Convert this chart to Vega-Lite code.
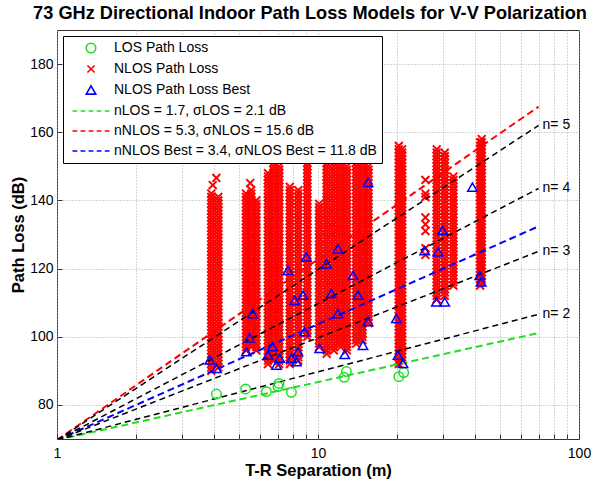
{
"$schema": "https://vega.github.io/schema/vega-lite/v6.json",
"width": 522, "height": 409,
"autosize": {"type": "none"},
"padding": {"left": 57, "top": 30, "right": 18, "bottom": 44},
"background": "white",
"title": {"text": "73 GHz Directional Indoor Path Loss Models for V-V Polarization", "font": "Liberation Sans", "fontSize": 18.2, "fontWeight": "bold", "color": "black", "anchor": "middle", "offset": 7, "dx": -8},
"config": {
  "view": {"stroke": "#333", "strokeWidth": 1},
  "axis": {"labelFont": "Liberation Sans", "labelFontSize": 14, "labelColor": "black", "titleFont": "Liberation Sans", "titleFontSize": 16.5, "titleFontWeight": "bold", "titleColor": "black", "domain": false, "gridColor": "#aaaaaa", "gridDash": [1, 2], "gridOpacity": 1, "gridWidth": 1, "tickColor": "#333", "tickSize": -5},
  "axisX": {"labelPadding": 12, "titlePadding": 2, "labelFlush": false},
  "axisY": {"labelPadding": 9, "titlePadding": 3},
  "legend": {"orient": "top-left", "offset": 6, "labelFont": "Liberation Sans", "labelFontSize": 14, "labelColor": "black", "labelLimit": 400, "strokeColor": "#000", "fillColor": "white", "padding": 5, "rowPadding": 6, "symbolOffset": 16, "labelOffset": 16, "symbolStrokeWidth": 1.6, "symbolSize": 90, "cornerRadius": 0}
},
"datasets": {
"nlos": [
{"d":3.9,"p":90},{"d":3.9,"p":91},{"d":3.9,"p":92},{"d":3.9,"p":93},{"d":3.9,"p":94},{"d":3.9,"p":95},{"d":3.9,"p":96},{"d":3.9,"p":97},{"d":3.9,"p":98},{"d":3.9,"p":99},{"d":3.9,"p":100},{"d":3.9,"p":101},{"d":3.9,"p":102},{"d":3.9,"p":103},{"d":3.9,"p":104},{"d":3.9,"p":105},{"d":3.9,"p":106},{"d":3.9,"p":107},{"d":3.9,"p":108},{"d":3.9,"p":109},{"d":3.9,"p":110},{"d":3.9,"p":111},{"d":3.9,"p":112},{"d":3.9,"p":113},{"d":3.9,"p":114},{"d":3.9,"p":115},{"d":3.9,"p":116},{"d":3.9,"p":117},{"d":3.9,"p":118},{"d":3.9,"p":119},{"d":3.9,"p":120},{"d":3.9,"p":121},{"d":3.9,"p":122},{"d":3.9,"p":123},{"d":3.9,"p":124},{"d":3.9,"p":125},{"d":3.9,"p":126},{"d":3.9,"p":127},{"d":3.9,"p":128},{"d":3.9,"p":129},{"d":3.9,"p":130},{"d":3.9,"p":131},{"d":3.9,"p":132},{"d":3.9,"p":133},{"d":3.9,"p":134},{"d":3.9,"p":135},{"d":3.9,"p":136},{"d":3.9,"p":137},{"d":3.9,"p":138},{"d":3.9,"p":139},{"d":3.9,"p":140},{"d":3.9,"p":141},{"d":3.9,"p":142},
{"d":4.15,"p":91},{"d":4.15,"p":92},{"d":4.15,"p":93},{"d":4.15,"p":94},{"d":4.15,"p":95},{"d":4.15,"p":96},{"d":4.15,"p":97},{"d":4.15,"p":98},{"d":4.15,"p":99},{"d":4.15,"p":100},{"d":4.15,"p":101},{"d":4.15,"p":102},{"d":4.15,"p":103},{"d":4.15,"p":104},{"d":4.15,"p":105},{"d":4.15,"p":106},{"d":4.15,"p":107},{"d":4.15,"p":108},{"d":4.15,"p":109},{"d":4.15,"p":110},{"d":4.15,"p":111},{"d":4.15,"p":112},{"d":4.15,"p":113},{"d":4.15,"p":114},{"d":4.15,"p":115},{"d":4.15,"p":116},{"d":4.15,"p":117},{"d":4.15,"p":118},{"d":4.15,"p":119},{"d":4.15,"p":120},{"d":4.15,"p":121},{"d":4.15,"p":122},{"d":4.15,"p":123},{"d":4.15,"p":124},{"d":4.15,"p":125},{"d":4.15,"p":126},{"d":4.15,"p":127},{"d":4.15,"p":128},{"d":4.15,"p":129},{"d":4.15,"p":130},{"d":4.15,"p":131},{"d":4.15,"p":132},{"d":4.15,"p":133},{"d":4.15,"p":134},{"d":4.15,"p":135},{"d":4.15,"p":136},{"d":4.15,"p":137},{"d":4.15,"p":138},{"d":4.15,"p":139},{"d":4.15,"p":140},{"d":4.15,"p":141},
{"d":3.95,"p":144.5},{"d":4.08,"p":146.6},
{"d":5.3,"p":96},{"d":5.3,"p":97},{"d":5.3,"p":98},{"d":5.3,"p":99},{"d":5.3,"p":100},{"d":5.3,"p":101},{"d":5.3,"p":102},{"d":5.3,"p":103},{"d":5.3,"p":104},{"d":5.3,"p":105},{"d":5.3,"p":106},{"d":5.3,"p":107},{"d":5.3,"p":108},{"d":5.3,"p":109},{"d":5.3,"p":110},{"d":5.3,"p":111},{"d":5.3,"p":112},{"d":5.3,"p":113},{"d":5.3,"p":114},{"d":5.3,"p":115},{"d":5.3,"p":116},{"d":5.3,"p":117},{"d":5.3,"p":118},{"d":5.3,"p":119},{"d":5.3,"p":120},{"d":5.3,"p":121},{"d":5.3,"p":122},{"d":5.3,"p":123},{"d":5.3,"p":124},{"d":5.3,"p":125},{"d":5.3,"p":126},{"d":5.3,"p":127},{"d":5.3,"p":128},{"d":5.3,"p":129},{"d":5.3,"p":130},{"d":5.3,"p":131},{"d":5.3,"p":132},{"d":5.3,"p":133},{"d":5.3,"p":134},{"d":5.3,"p":135},{"d":5.3,"p":136},{"d":5.3,"p":137},{"d":5.3,"p":138},{"d":5.3,"p":139},{"d":5.3,"p":140},{"d":5.3,"p":141},{"d":5.3,"p":142},
{"d":5.55,"p":97},{"d":5.55,"p":98},{"d":5.55,"p":99},{"d":5.55,"p":100},{"d":5.55,"p":101},{"d":5.55,"p":102},{"d":5.55,"p":103},{"d":5.55,"p":104},{"d":5.55,"p":105},{"d":5.55,"p":106},{"d":5.55,"p":107},{"d":5.55,"p":108},{"d":5.55,"p":109},{"d":5.55,"p":110},{"d":5.55,"p":111},{"d":5.55,"p":112},{"d":5.55,"p":113},{"d":5.55,"p":114},{"d":5.55,"p":115},{"d":5.55,"p":116},{"d":5.55,"p":117},{"d":5.55,"p":118},{"d":5.55,"p":119},{"d":5.55,"p":120},{"d":5.55,"p":121},{"d":5.55,"p":122},{"d":5.55,"p":123},{"d":5.55,"p":124},{"d":5.55,"p":125},{"d":5.55,"p":126},{"d":5.55,"p":127},{"d":5.55,"p":128},{"d":5.55,"p":129},{"d":5.55,"p":130},{"d":5.55,"p":131},{"d":5.55,"p":132},{"d":5.55,"p":133},{"d":5.55,"p":134},{"d":5.55,"p":135},{"d":5.55,"p":136},{"d":5.55,"p":137},{"d":5.55,"p":138},{"d":5.55,"p":139},{"d":5.55,"p":140},{"d":5.55,"p":141},{"d":5.55,"p":142},{"d":5.55,"p":143},
{"d":5.8,"p":96},{"d":5.8,"p":97},{"d":5.8,"p":98},{"d":5.8,"p":99},{"d":5.8,"p":100},{"d":5.8,"p":101},{"d":5.8,"p":102},{"d":5.8,"p":103},{"d":5.8,"p":104},{"d":5.8,"p":105},{"d":5.8,"p":106},{"d":5.8,"p":107},{"d":5.8,"p":108},{"d":5.8,"p":109},{"d":5.8,"p":110},{"d":5.8,"p":111},{"d":5.8,"p":112},{"d":5.8,"p":113},{"d":5.8,"p":114},{"d":5.8,"p":115},{"d":5.8,"p":116},{"d":5.8,"p":117},{"d":5.8,"p":118},{"d":5.8,"p":119},{"d":5.8,"p":120},{"d":5.8,"p":121},{"d":5.8,"p":122},{"d":5.8,"p":123},{"d":5.8,"p":124},{"d":5.8,"p":125},{"d":5.8,"p":126},{"d":5.8,"p":127},{"d":5.8,"p":128},{"d":5.8,"p":129},{"d":5.8,"p":130},{"d":5.8,"p":131},{"d":5.8,"p":132},{"d":5.8,"p":133},{"d":5.8,"p":134},{"d":5.8,"p":135},{"d":5.8,"p":136},{"d":5.8,"p":137},{"d":5.8,"p":138},{"d":5.8,"p":139},{"d":5.8,"p":140},
{"d":5.5,"p":145.1},
{"d":6.43,"p":92},{"d":6.43,"p":93},{"d":6.43,"p":94},{"d":6.43,"p":95},{"d":6.43,"p":96},{"d":6.43,"p":97},{"d":6.43,"p":98},{"d":6.43,"p":99},{"d":6.43,"p":100},{"d":6.43,"p":101},{"d":6.43,"p":102},{"d":6.43,"p":103},{"d":6.43,"p":104},{"d":6.43,"p":105},{"d":6.43,"p":106},{"d":6.43,"p":107},{"d":6.43,"p":108},{"d":6.43,"p":109},{"d":6.43,"p":110},{"d":6.43,"p":111},{"d":6.43,"p":112},{"d":6.43,"p":113},{"d":6.43,"p":114},{"d":6.43,"p":115},{"d":6.43,"p":116},{"d":6.43,"p":117},{"d":6.43,"p":118},{"d":6.43,"p":119},{"d":6.43,"p":120},{"d":6.43,"p":121},{"d":6.43,"p":122},{"d":6.43,"p":123},{"d":6.43,"p":124},{"d":6.43,"p":125},{"d":6.43,"p":126},{"d":6.43,"p":127},{"d":6.43,"p":128},{"d":6.43,"p":129},{"d":6.43,"p":130},{"d":6.43,"p":131},{"d":6.43,"p":132},{"d":6.43,"p":133},{"d":6.43,"p":134},{"d":6.43,"p":135},{"d":6.43,"p":136},{"d":6.43,"p":137},{"d":6.43,"p":138},{"d":6.43,"p":139},{"d":6.43,"p":140},{"d":6.43,"p":141},{"d":6.43,"p":142},{"d":6.43,"p":143},{"d":6.43,"p":144},{"d":6.43,"p":145},{"d":6.43,"p":146},{"d":6.43,"p":147},{"d":6.43,"p":148},
{"d":6.75,"p":93},{"d":6.75,"p":94},{"d":6.75,"p":95},{"d":6.75,"p":96},{"d":6.75,"p":97},{"d":6.75,"p":98},{"d":6.75,"p":99},{"d":6.75,"p":100},{"d":6.75,"p":101},{"d":6.75,"p":102},{"d":6.75,"p":103},{"d":6.75,"p":104},{"d":6.75,"p":105},{"d":6.75,"p":106},{"d":6.75,"p":107},{"d":6.75,"p":108},{"d":6.75,"p":109},{"d":6.75,"p":110},{"d":6.75,"p":111},{"d":6.75,"p":112},{"d":6.75,"p":113},{"d":6.75,"p":114},{"d":6.75,"p":115},{"d":6.75,"p":116},{"d":6.75,"p":117},{"d":6.75,"p":118},{"d":6.75,"p":119},{"d":6.75,"p":120},{"d":6.75,"p":121},{"d":6.75,"p":122},{"d":6.75,"p":123},{"d":6.75,"p":124},{"d":6.75,"p":125},{"d":6.75,"p":126},{"d":6.75,"p":127},{"d":6.75,"p":128},{"d":6.75,"p":129},{"d":6.75,"p":130},{"d":6.75,"p":131},{"d":6.75,"p":132},{"d":6.75,"p":133},{"d":6.75,"p":134},{"d":6.75,"p":135},{"d":6.75,"p":136},{"d":6.75,"p":137},{"d":6.75,"p":138},{"d":6.75,"p":139},{"d":6.75,"p":140},{"d":6.75,"p":141},{"d":6.75,"p":142},{"d":6.75,"p":143},{"d":6.75,"p":144},{"d":6.75,"p":145},{"d":6.75,"p":146},{"d":6.75,"p":147},{"d":6.75,"p":148},{"d":6.75,"p":149},{"d":6.75,"p":150},{"d":6.75,"p":151},
{"d":7.1,"p":92},{"d":7.1,"p":93},{"d":7.1,"p":94},{"d":7.1,"p":95},{"d":7.1,"p":96},{"d":7.1,"p":97},{"d":7.1,"p":98},{"d":7.1,"p":99},{"d":7.1,"p":100},{"d":7.1,"p":101},{"d":7.1,"p":102},{"d":7.1,"p":103},{"d":7.1,"p":104},{"d":7.1,"p":105},{"d":7.1,"p":106},{"d":7.1,"p":107},{"d":7.1,"p":108},{"d":7.1,"p":109},{"d":7.1,"p":110},{"d":7.1,"p":111},{"d":7.1,"p":112},{"d":7.1,"p":113},{"d":7.1,"p":114},{"d":7.1,"p":115},{"d":7.1,"p":116},{"d":7.1,"p":117},{"d":7.1,"p":118},{"d":7.1,"p":119},{"d":7.1,"p":120},{"d":7.1,"p":121},{"d":7.1,"p":122},{"d":7.1,"p":123},{"d":7.1,"p":124},{"d":7.1,"p":125},{"d":7.1,"p":126},{"d":7.1,"p":127},{"d":7.1,"p":128},{"d":7.1,"p":129},{"d":7.1,"p":130},{"d":7.1,"p":131},{"d":7.1,"p":132},{"d":7.1,"p":133},{"d":7.1,"p":134},{"d":7.1,"p":135},{"d":7.1,"p":136},{"d":7.1,"p":137},{"d":7.1,"p":138},{"d":7.1,"p":139},{"d":7.1,"p":140},{"d":7.1,"p":141},{"d":7.1,"p":142},{"d":7.1,"p":143},{"d":7.1,"p":144},{"d":7.1,"p":145},{"d":7.1,"p":146},{"d":7.1,"p":147},{"d":7.1,"p":148},{"d":7.1,"p":149},{"d":7.1,"p":150},
{"d":7.8,"p":92},{"d":7.8,"p":93},{"d":7.8,"p":94},{"d":7.8,"p":95},{"d":7.8,"p":96},{"d":7.8,"p":97},{"d":7.8,"p":98},{"d":7.8,"p":99},{"d":7.8,"p":100},{"d":7.8,"p":101},{"d":7.8,"p":102},{"d":7.8,"p":103},{"d":7.8,"p":104},{"d":7.8,"p":105},{"d":7.8,"p":106},{"d":7.8,"p":107},{"d":7.8,"p":108},{"d":7.8,"p":109},{"d":7.8,"p":110},{"d":7.8,"p":111},{"d":7.8,"p":112},{"d":7.8,"p":113},{"d":7.8,"p":114},{"d":7.8,"p":115},{"d":7.8,"p":116},{"d":7.8,"p":117},{"d":7.8,"p":118},{"d":7.8,"p":119},{"d":7.8,"p":120},{"d":7.8,"p":121},{"d":7.8,"p":122},{"d":7.8,"p":123},{"d":7.8,"p":124},{"d":7.8,"p":125},{"d":7.8,"p":126},{"d":7.8,"p":127},{"d":7.8,"p":128},{"d":7.8,"p":129},{"d":7.8,"p":130},{"d":7.8,"p":131},{"d":7.8,"p":132},{"d":7.8,"p":133},{"d":7.8,"p":134},{"d":7.8,"p":135},{"d":7.8,"p":136},{"d":7.8,"p":137},{"d":7.8,"p":138},{"d":7.8,"p":139},{"d":7.8,"p":140},{"d":7.8,"p":141},{"d":7.8,"p":142},{"d":7.8,"p":143},{"d":7.8,"p":144},
{"d":8.4,"p":93},{"d":8.4,"p":94},{"d":8.4,"p":95},{"d":8.4,"p":96},{"d":8.4,"p":97},{"d":8.4,"p":98},{"d":8.4,"p":99},{"d":8.4,"p":100},{"d":8.4,"p":101},{"d":8.4,"p":102},{"d":8.4,"p":103},{"d":8.4,"p":104},{"d":8.4,"p":105},{"d":8.4,"p":106},{"d":8.4,"p":107},{"d":8.4,"p":108},{"d":8.4,"p":109},{"d":8.4,"p":110},{"d":8.4,"p":111},{"d":8.4,"p":112},{"d":8.4,"p":113},{"d":8.4,"p":114},{"d":8.4,"p":115},{"d":8.4,"p":116},{"d":8.4,"p":117},{"d":8.4,"p":118},{"d":8.4,"p":119},{"d":8.4,"p":120},{"d":8.4,"p":121},{"d":8.4,"p":122},{"d":8.4,"p":123},{"d":8.4,"p":124},{"d":8.4,"p":125},{"d":8.4,"p":126},{"d":8.4,"p":127},{"d":8.4,"p":128},{"d":8.4,"p":129},{"d":8.4,"p":130},{"d":8.4,"p":131},{"d":8.4,"p":132},{"d":8.4,"p":133},{"d":8.4,"p":134},{"d":8.4,"p":135},{"d":8.4,"p":136},{"d":8.4,"p":137},{"d":8.4,"p":138},{"d":8.4,"p":139},{"d":8.4,"p":140},{"d":8.4,"p":141},{"d":8.4,"p":142},{"d":8.4,"p":143},
{"d":9.1,"p":100},{"d":9.1,"p":101},{"d":9.1,"p":102},{"d":9.1,"p":103},{"d":9.1,"p":104},{"d":9.1,"p":105},{"d":9.1,"p":106},{"d":9.1,"p":107},{"d":9.1,"p":108},{"d":9.1,"p":109},{"d":9.1,"p":110},{"d":9.1,"p":111},{"d":9.1,"p":112},{"d":9.1,"p":113},{"d":9.1,"p":114},{"d":9.1,"p":115},{"d":9.1,"p":116},{"d":9.1,"p":117},{"d":9.1,"p":118},{"d":9.1,"p":119},{"d":9.1,"p":120},{"d":9.1,"p":121},{"d":9.1,"p":122},{"d":9.1,"p":123},{"d":9.1,"p":124},{"d":9.1,"p":125},{"d":9.1,"p":126},{"d":9.1,"p":127},{"d":9.1,"p":128},{"d":9.1,"p":129},{"d":9.1,"p":130},{"d":9.1,"p":131},{"d":9.1,"p":132},{"d":9.1,"p":133},{"d":9.1,"p":134},{"d":9.1,"p":135},{"d":9.1,"p":136},{"d":9.1,"p":137},{"d":9.1,"p":138},{"d":9.1,"p":139},{"d":9.1,"p":140},{"d":9.1,"p":141},{"d":9.1,"p":142},{"d":9.1,"p":143},{"d":9.1,"p":144},{"d":9.1,"p":145},{"d":9.1,"p":146},{"d":9.1,"p":147},{"d":9.1,"p":148},{"d":9.1,"p":149},{"d":9.1,"p":150},{"d":9.1,"p":151},{"d":9.1,"p":152},{"d":9.1,"p":153},{"d":9.1,"p":154},{"d":9.1,"p":155},{"d":9.1,"p":156},{"d":9.1,"p":157},{"d":9.1,"p":158},{"d":9.1,"p":159},{"d":9.1,"p":160},
{"d":10.1,"p":97},{"d":10.1,"p":98},{"d":10.1,"p":99},{"d":10.1,"p":100},{"d":10.1,"p":101},{"d":10.1,"p":102},{"d":10.1,"p":103},{"d":10.1,"p":104},{"d":10.1,"p":105},{"d":10.1,"p":106},{"d":10.1,"p":107},{"d":10.1,"p":108},{"d":10.1,"p":109},{"d":10.1,"p":110},{"d":10.1,"p":111},{"d":10.1,"p":112},{"d":10.1,"p":113},{"d":10.1,"p":114},{"d":10.1,"p":115},{"d":10.1,"p":116},{"d":10.1,"p":117},{"d":10.1,"p":118},{"d":10.1,"p":119},{"d":10.1,"p":120},{"d":10.1,"p":121},{"d":10.1,"p":122},{"d":10.1,"p":123},{"d":10.1,"p":124},{"d":10.1,"p":125},{"d":10.1,"p":126},{"d":10.1,"p":127},{"d":10.1,"p":128},{"d":10.1,"p":129},{"d":10.1,"p":130},{"d":10.1,"p":131},{"d":10.1,"p":132},{"d":10.1,"p":133},{"d":10.1,"p":134},{"d":10.1,"p":135},{"d":10.1,"p":136},{"d":10.1,"p":137},{"d":10.1,"p":138},{"d":10.1,"p":139},
{"d":10.8,"p":95},{"d":10.8,"p":96},{"d":10.8,"p":97},{"d":10.8,"p":98},{"d":10.8,"p":99},{"d":10.8,"p":100},{"d":10.8,"p":101},{"d":10.8,"p":102},{"d":10.8,"p":103},{"d":10.8,"p":104},{"d":10.8,"p":105},{"d":10.8,"p":106},{"d":10.8,"p":107},{"d":10.8,"p":108},{"d":10.8,"p":109},{"d":10.8,"p":110},{"d":10.8,"p":111},{"d":10.8,"p":112},{"d":10.8,"p":113},{"d":10.8,"p":114},{"d":10.8,"p":115},{"d":10.8,"p":116},{"d":10.8,"p":117},{"d":10.8,"p":118},{"d":10.8,"p":119},{"d":10.8,"p":120},{"d":10.8,"p":121},{"d":10.8,"p":122},{"d":10.8,"p":123},{"d":10.8,"p":124},{"d":10.8,"p":125},{"d":10.8,"p":126},{"d":10.8,"p":127},{"d":10.8,"p":128},{"d":10.8,"p":129},{"d":10.8,"p":130},{"d":10.8,"p":131},{"d":10.8,"p":132},{"d":10.8,"p":133},{"d":10.8,"p":134},{"d":10.8,"p":135},{"d":10.8,"p":136},{"d":10.8,"p":137},{"d":10.8,"p":138},{"d":10.8,"p":139},{"d":10.8,"p":140},{"d":10.8,"p":141},{"d":10.8,"p":142},{"d":10.8,"p":143},{"d":10.8,"p":144},{"d":10.8,"p":145},{"d":10.8,"p":146},{"d":10.8,"p":147},{"d":10.8,"p":148},{"d":10.8,"p":149},{"d":10.8,"p":150},{"d":10.8,"p":151},
{"d":11.5,"p":96},{"d":11.5,"p":97},{"d":11.5,"p":98},{"d":11.5,"p":99},{"d":11.5,"p":100},{"d":11.5,"p":101},{"d":11.5,"p":102},{"d":11.5,"p":103},{"d":11.5,"p":104},{"d":11.5,"p":105},{"d":11.5,"p":106},{"d":11.5,"p":107},{"d":11.5,"p":108},{"d":11.5,"p":109},{"d":11.5,"p":110},{"d":11.5,"p":111},{"d":11.5,"p":112},{"d":11.5,"p":113},{"d":11.5,"p":114},{"d":11.5,"p":115},{"d":11.5,"p":116},{"d":11.5,"p":117},{"d":11.5,"p":118},{"d":11.5,"p":119},{"d":11.5,"p":120},{"d":11.5,"p":121},{"d":11.5,"p":122},{"d":11.5,"p":123},{"d":11.5,"p":124},{"d":11.5,"p":125},{"d":11.5,"p":126},{"d":11.5,"p":127},{"d":11.5,"p":128},{"d":11.5,"p":129},{"d":11.5,"p":130},{"d":11.5,"p":131},{"d":11.5,"p":132},{"d":11.5,"p":133},{"d":11.5,"p":134},{"d":11.5,"p":135},{"d":11.5,"p":136},{"d":11.5,"p":137},{"d":11.5,"p":138},{"d":11.5,"p":139},{"d":11.5,"p":140},{"d":11.5,"p":141},{"d":11.5,"p":142},{"d":11.5,"p":143},{"d":11.5,"p":144},{"d":11.5,"p":145},{"d":11.5,"p":146},{"d":11.5,"p":147},{"d":11.5,"p":148},{"d":11.5,"p":149},{"d":11.5,"p":150},{"d":11.5,"p":151},{"d":11.5,"p":152},
{"d":12.2,"p":97},{"d":12.2,"p":98},{"d":12.2,"p":99},{"d":12.2,"p":100},{"d":12.2,"p":101},{"d":12.2,"p":102},{"d":12.2,"p":103},{"d":12.2,"p":104},{"d":12.2,"p":105},{"d":12.2,"p":106},{"d":12.2,"p":107},{"d":12.2,"p":108},{"d":12.2,"p":109},{"d":12.2,"p":110},{"d":12.2,"p":111},{"d":12.2,"p":112},{"d":12.2,"p":113},{"d":12.2,"p":114},{"d":12.2,"p":115},{"d":12.2,"p":116},{"d":12.2,"p":117},{"d":12.2,"p":118},{"d":12.2,"p":119},{"d":12.2,"p":120},{"d":12.2,"p":121},{"d":12.2,"p":122},{"d":12.2,"p":123},{"d":12.2,"p":124},{"d":12.2,"p":125},{"d":12.2,"p":126},{"d":12.2,"p":127},{"d":12.2,"p":128},{"d":12.2,"p":129},{"d":12.2,"p":130},{"d":12.2,"p":131},{"d":12.2,"p":132},{"d":12.2,"p":133},{"d":12.2,"p":134},{"d":12.2,"p":135},{"d":12.2,"p":136},{"d":12.2,"p":137},{"d":12.2,"p":138},{"d":12.2,"p":139},{"d":12.2,"p":140},{"d":12.2,"p":141},{"d":12.2,"p":142},{"d":12.2,"p":143},{"d":12.2,"p":144},{"d":12.2,"p":145},{"d":12.2,"p":146},{"d":12.2,"p":147},{"d":12.2,"p":148},{"d":12.2,"p":149},{"d":12.2,"p":150},{"d":12.2,"p":151},
{"d":12.9,"p":96},{"d":12.9,"p":97},{"d":12.9,"p":98},{"d":12.9,"p":99},{"d":12.9,"p":100},{"d":12.9,"p":101},{"d":12.9,"p":102},{"d":12.9,"p":103},{"d":12.9,"p":104},{"d":12.9,"p":105},{"d":12.9,"p":106},{"d":12.9,"p":107},{"d":12.9,"p":108},{"d":12.9,"p":109},{"d":12.9,"p":110},{"d":12.9,"p":111},{"d":12.9,"p":112},{"d":12.9,"p":113},{"d":12.9,"p":114},{"d":12.9,"p":115},{"d":12.9,"p":116},{"d":12.9,"p":117},{"d":12.9,"p":118},{"d":12.9,"p":119},{"d":12.9,"p":120},{"d":12.9,"p":121},{"d":12.9,"p":122},{"d":12.9,"p":123},{"d":12.9,"p":124},{"d":12.9,"p":125},{"d":12.9,"p":126},{"d":12.9,"p":127},{"d":12.9,"p":128},{"d":12.9,"p":129},{"d":12.9,"p":130},{"d":12.9,"p":131},{"d":12.9,"p":132},{"d":12.9,"p":133},{"d":12.9,"p":134},{"d":12.9,"p":135},{"d":12.9,"p":136},{"d":12.9,"p":137},{"d":12.9,"p":138},{"d":12.9,"p":139},{"d":12.9,"p":140},{"d":12.9,"p":141},{"d":12.9,"p":142},{"d":12.9,"p":143},{"d":12.9,"p":144},{"d":12.9,"p":145},{"d":12.9,"p":146},{"d":12.9,"p":147},{"d":12.9,"p":148},{"d":12.9,"p":149},{"d":12.9,"p":150},
{"d":14.0,"p":98},{"d":14.0,"p":99},{"d":14.0,"p":100},{"d":14.0,"p":101},{"d":14.0,"p":102},{"d":14.0,"p":103},{"d":14.0,"p":104},{"d":14.0,"p":105},{"d":14.0,"p":106},{"d":14.0,"p":107},{"d":14.0,"p":108},{"d":14.0,"p":109},{"d":14.0,"p":110},{"d":14.0,"p":111},{"d":14.0,"p":112},{"d":14.0,"p":113},{"d":14.0,"p":114},{"d":14.0,"p":115},{"d":14.0,"p":116},{"d":14.0,"p":117},{"d":14.0,"p":118},{"d":14.0,"p":119},{"d":14.0,"p":120},{"d":14.0,"p":121},{"d":14.0,"p":122},{"d":14.0,"p":123},{"d":14.0,"p":124},{"d":14.0,"p":125},{"d":14.0,"p":126},{"d":14.0,"p":127},{"d":14.0,"p":128},{"d":14.0,"p":129},{"d":14.0,"p":130},{"d":14.0,"p":131},{"d":14.0,"p":132},{"d":14.0,"p":133},{"d":14.0,"p":134},{"d":14.0,"p":135},{"d":14.0,"p":136},{"d":14.0,"p":137},{"d":14.0,"p":138},{"d":14.0,"p":139},{"d":14.0,"p":140},{"d":14.0,"p":141},{"d":14.0,"p":142},{"d":14.0,"p":143},{"d":14.0,"p":144},{"d":14.0,"p":145},{"d":14.0,"p":146},{"d":14.0,"p":147},{"d":14.0,"p":148},{"d":14.0,"p":149},{"d":14.0,"p":150},{"d":14.0,"p":151},{"d":14.0,"p":152},
{"d":14.8,"p":99},{"d":14.8,"p":100},{"d":14.8,"p":101},{"d":14.8,"p":102},{"d":14.8,"p":103},{"d":14.8,"p":104},{"d":14.8,"p":105},{"d":14.8,"p":106},{"d":14.8,"p":107},{"d":14.8,"p":108},{"d":14.8,"p":109},{"d":14.8,"p":110},{"d":14.8,"p":111},{"d":14.8,"p":112},{"d":14.8,"p":113},{"d":14.8,"p":114},{"d":14.8,"p":115},{"d":14.8,"p":116},{"d":14.8,"p":117},{"d":14.8,"p":118},{"d":14.8,"p":119},{"d":14.8,"p":120},{"d":14.8,"p":121},{"d":14.8,"p":122},{"d":14.8,"p":123},{"d":14.8,"p":124},{"d":14.8,"p":125},{"d":14.8,"p":126},{"d":14.8,"p":127},{"d":14.8,"p":128},{"d":14.8,"p":129},{"d":14.8,"p":130},{"d":14.8,"p":131},{"d":14.8,"p":132},{"d":14.8,"p":133},{"d":14.8,"p":134},{"d":14.8,"p":135},{"d":14.8,"p":136},{"d":14.8,"p":137},{"d":14.8,"p":138},{"d":14.8,"p":139},{"d":14.8,"p":140},{"d":14.8,"p":141},{"d":14.8,"p":142},{"d":14.8,"p":143},{"d":14.8,"p":144},{"d":14.8,"p":145},{"d":14.8,"p":146},{"d":14.8,"p":147},{"d":14.8,"p":148},{"d":14.8,"p":149},{"d":14.8,"p":150},{"d":14.8,"p":151},{"d":14.8,"p":152},{"d":14.8,"p":153},
{"d":15.6,"p":104},{"d":15.6,"p":105},{"d":15.6,"p":106},{"d":15.6,"p":107},{"d":15.6,"p":108},{"d":15.6,"p":109},{"d":15.6,"p":110},{"d":15.6,"p":111},{"d":15.6,"p":112},{"d":15.6,"p":113},{"d":15.6,"p":114},{"d":15.6,"p":115},{"d":15.6,"p":116},{"d":15.6,"p":117},{"d":15.6,"p":118},{"d":15.6,"p":119},{"d":15.6,"p":120},{"d":15.6,"p":121},{"d":15.6,"p":122},{"d":15.6,"p":123},{"d":15.6,"p":124},{"d":15.6,"p":125},{"d":15.6,"p":126},{"d":15.6,"p":127},{"d":15.6,"p":128},{"d":15.6,"p":129},{"d":15.6,"p":130},{"d":15.6,"p":131},{"d":15.6,"p":132},{"d":15.6,"p":133},{"d":15.6,"p":134},{"d":15.6,"p":135},{"d":15.6,"p":136},{"d":15.6,"p":137},{"d":15.6,"p":138},{"d":15.6,"p":139},{"d":15.6,"p":140},{"d":15.6,"p":141},{"d":15.6,"p":142},{"d":15.6,"p":143},{"d":15.6,"p":144},{"d":15.6,"p":145},{"d":15.6,"p":146},{"d":15.6,"p":147},{"d":15.6,"p":148},{"d":15.6,"p":149},{"d":15.6,"p":150},
{"d":20.4,"p":92},{"d":20.4,"p":93},{"d":20.4,"p":94},{"d":20.4,"p":95},{"d":20.4,"p":96},{"d":20.4,"p":97},{"d":20.4,"p":98},{"d":20.4,"p":99},{"d":20.4,"p":100},{"d":20.4,"p":101},{"d":20.4,"p":102},{"d":20.4,"p":103},{"d":20.4,"p":104},{"d":20.4,"p":105},{"d":20.4,"p":106},{"d":20.4,"p":107},{"d":20.4,"p":108},{"d":20.4,"p":109},{"d":20.4,"p":110},{"d":20.4,"p":111},{"d":20.4,"p":112},{"d":20.4,"p":113},{"d":20.4,"p":114},{"d":20.4,"p":115},{"d":20.4,"p":116},{"d":20.4,"p":117},{"d":20.4,"p":118},{"d":20.4,"p":119},{"d":20.4,"p":120},{"d":20.4,"p":121},{"d":20.4,"p":122},{"d":20.4,"p":123},{"d":20.4,"p":124},{"d":20.4,"p":125},{"d":20.4,"p":126},{"d":20.4,"p":127},{"d":20.4,"p":128},{"d":20.4,"p":129},{"d":20.4,"p":130},{"d":20.4,"p":131},{"d":20.4,"p":132},{"d":20.4,"p":133},{"d":20.4,"p":134},{"d":20.4,"p":135},{"d":20.4,"p":136},{"d":20.4,"p":137},{"d":20.4,"p":138},{"d":20.4,"p":139},{"d":20.4,"p":140},{"d":20.4,"p":141},{"d":20.4,"p":142},{"d":20.4,"p":143},{"d":20.4,"p":144},{"d":20.4,"p":145},{"d":20.4,"p":146},{"d":20.4,"p":147},{"d":20.4,"p":148},{"d":20.4,"p":149},{"d":20.4,"p":150},{"d":20.4,"p":151},{"d":20.4,"p":152},{"d":20.4,"p":153},{"d":20.4,"p":154},{"d":20.4,"p":155},{"d":20.4,"p":156},
{"d":21.0,"p":93},{"d":21.0,"p":94},{"d":21.0,"p":95},{"d":21.0,"p":96},{"d":21.0,"p":97},{"d":21.0,"p":98},{"d":21.0,"p":99},{"d":21.0,"p":100},{"d":21.0,"p":101},{"d":21.0,"p":102},{"d":21.0,"p":103},{"d":21.0,"p":104},{"d":21.0,"p":105},{"d":21.0,"p":106},{"d":21.0,"p":107},{"d":21.0,"p":108},{"d":21.0,"p":109},{"d":21.0,"p":110},{"d":21.0,"p":111},{"d":21.0,"p":112},{"d":21.0,"p":113},{"d":21.0,"p":114},{"d":21.0,"p":115},{"d":21.0,"p":116},{"d":21.0,"p":117},{"d":21.0,"p":118},{"d":21.0,"p":119},{"d":21.0,"p":120},{"d":21.0,"p":121},{"d":21.0,"p":122},{"d":21.0,"p":123},{"d":21.0,"p":124},{"d":21.0,"p":125},{"d":21.0,"p":126},{"d":21.0,"p":127},{"d":21.0,"p":128},{"d":21.0,"p":129},{"d":21.0,"p":130},{"d":21.0,"p":131},{"d":21.0,"p":132},{"d":21.0,"p":133},{"d":21.0,"p":134},{"d":21.0,"p":135},{"d":21.0,"p":136},{"d":21.0,"p":137},{"d":21.0,"p":138},{"d":21.0,"p":139},{"d":21.0,"p":140},{"d":21.0,"p":141},{"d":21.0,"p":142},{"d":21.0,"p":143},{"d":21.0,"p":144},{"d":21.0,"p":145},{"d":21.0,"p":146},{"d":21.0,"p":147},{"d":21.0,"p":148},{"d":21.0,"p":149},{"d":21.0,"p":150},{"d":21.0,"p":151},{"d":21.0,"p":152},{"d":21.0,"p":153},{"d":21.0,"p":154},{"d":21.0,"p":155},
{"d":25.8,"p":146},{"d":25.8,"p":142},{"d":25.8,"p":141},{"d":25.8,"p":135},{"d":25.8,"p":133},{"d":25.8,"p":131},{"d":25.8,"p":126},{"d":25.8,"p":124},
{"d":28.5,"p":111},{"d":28.5,"p":112},{"d":28.5,"p":113},{"d":28.5,"p":114},{"d":28.5,"p":115},{"d":28.5,"p":116},{"d":28.5,"p":117},{"d":28.5,"p":118},{"d":28.5,"p":119},{"d":28.5,"p":120},{"d":28.5,"p":121},{"d":28.5,"p":122},{"d":28.5,"p":123},{"d":28.5,"p":124},{"d":28.5,"p":125},{"d":28.5,"p":126},{"d":28.5,"p":127},{"d":28.5,"p":128},{"d":28.5,"p":129},{"d":28.5,"p":130},{"d":28.5,"p":131},{"d":28.5,"p":132},{"d":28.5,"p":133},{"d":28.5,"p":134},{"d":28.5,"p":135},{"d":28.5,"p":136},{"d":28.5,"p":137},{"d":28.5,"p":138},{"d":28.5,"p":139},{"d":28.5,"p":140},{"d":28.5,"p":141},{"d":28.5,"p":142},{"d":28.5,"p":143},{"d":28.5,"p":144},{"d":28.5,"p":145},{"d":28.5,"p":146},{"d":28.5,"p":147},{"d":28.5,"p":148},{"d":28.5,"p":149},{"d":28.5,"p":150},{"d":28.5,"p":151},{"d":28.5,"p":152},{"d":28.5,"p":153},{"d":28.5,"p":154},{"d":28.5,"p":155},
{"d":30.6,"p":112},{"d":30.6,"p":113},{"d":30.6,"p":114},{"d":30.6,"p":115},{"d":30.6,"p":116},{"d":30.6,"p":117},{"d":30.6,"p":118},{"d":30.6,"p":119},{"d":30.6,"p":120},{"d":30.6,"p":121},{"d":30.6,"p":122},{"d":30.6,"p":123},{"d":30.6,"p":124},{"d":30.6,"p":125},{"d":30.6,"p":126},{"d":30.6,"p":127},{"d":30.6,"p":128},{"d":30.6,"p":129},{"d":30.6,"p":130},{"d":30.6,"p":131},{"d":30.6,"p":132},{"d":30.6,"p":133},{"d":30.6,"p":134},{"d":30.6,"p":135},{"d":30.6,"p":136},{"d":30.6,"p":137},{"d":30.6,"p":138},{"d":30.6,"p":139},{"d":30.6,"p":140},{"d":30.6,"p":141},{"d":30.6,"p":142},{"d":30.6,"p":143},{"d":30.6,"p":144},{"d":30.6,"p":145},{"d":30.6,"p":146},{"d":30.6,"p":147},{"d":30.6,"p":148},{"d":30.6,"p":149},{"d":30.6,"p":150},{"d":30.6,"p":151},{"d":30.6,"p":152},{"d":30.6,"p":153},{"d":30.6,"p":154},
{"d":33,"p":115},{"d":33,"p":116},{"d":33,"p":117},{"d":33,"p":118},{"d":33,"p":119},{"d":33,"p":120},{"d":33,"p":121},{"d":33,"p":122},{"d":33,"p":123},{"d":33,"p":124},{"d":33,"p":125},{"d":33,"p":126},{"d":33,"p":127},{"d":33,"p":128},{"d":33,"p":129},{"d":33,"p":130},{"d":33,"p":131},{"d":33,"p":132},{"d":33,"p":133},{"d":33,"p":134},{"d":33,"p":135},{"d":33,"p":136},{"d":33,"p":137},{"d":33,"p":138},{"d":33,"p":139},{"d":33,"p":140},{"d":33,"p":141},{"d":33,"p":142},{"d":33,"p":143},{"d":33,"p":144},{"d":33,"p":145},{"d":33,"p":146},{"d":33,"p":147},
{"d":41.8,"p":115},{"d":41.8,"p":116},{"d":41.8,"p":117},{"d":41.8,"p":118},{"d":41.8,"p":119},{"d":41.8,"p":120},{"d":41.8,"p":121},{"d":41.8,"p":122},{"d":41.8,"p":123},{"d":41.8,"p":124},{"d":41.8,"p":125},{"d":41.8,"p":126},{"d":41.8,"p":127},{"d":41.8,"p":128},{"d":41.8,"p":129},{"d":41.8,"p":130},{"d":41.8,"p":131},{"d":41.8,"p":132},{"d":41.8,"p":133},{"d":41.8,"p":134},{"d":41.8,"p":135},{"d":41.8,"p":136},{"d":41.8,"p":137},{"d":41.8,"p":138},{"d":41.8,"p":139},{"d":41.8,"p":140},{"d":41.8,"p":141},{"d":41.8,"p":142},{"d":41.8,"p":143},{"d":41.8,"p":144},{"d":41.8,"p":145},{"d":41.8,"p":146},{"d":41.8,"p":147},{"d":41.8,"p":148},{"d":41.8,"p":149},{"d":41.8,"p":150},{"d":41.8,"p":151},{"d":41.8,"p":152},{"d":41.8,"p":153},{"d":41.8,"p":154},{"d":41.8,"p":155},{"d":41.8,"p":156},{"d":41.8,"p":157},
{"d":42.4,"p":116},{"d":42.4,"p":117},{"d":42.4,"p":118},{"d":42.4,"p":119},{"d":42.4,"p":120},{"d":42.4,"p":121},{"d":42.4,"p":122},{"d":42.4,"p":123},{"d":42.4,"p":124},{"d":42.4,"p":125},{"d":42.4,"p":126},{"d":42.4,"p":127},{"d":42.4,"p":128},{"d":42.4,"p":129},{"d":42.4,"p":130},{"d":42.4,"p":131},{"d":42.4,"p":132},{"d":42.4,"p":133},{"d":42.4,"p":134},{"d":42.4,"p":135},{"d":42.4,"p":136},{"d":42.4,"p":137},{"d":42.4,"p":138},{"d":42.4,"p":139},{"d":42.4,"p":140},{"d":42.4,"p":141},{"d":42.4,"p":142},{"d":42.4,"p":143},{"d":42.4,"p":144},{"d":42.4,"p":145},{"d":42.4,"p":146},{"d":42.4,"p":147},{"d":42.4,"p":148},{"d":42.4,"p":149},{"d":42.4,"p":150},{"d":42.4,"p":151},{"d":42.4,"p":152},{"d":42.4,"p":153},{"d":42.4,"p":154},{"d":42.4,"p":155},{"d":42.4,"p":156},{"d":42.4,"p":157},{"d":42.4,"p":158}
],
"marks": [
{"s":"LOS Path Loss","d":4.08,"p":83.2},{"s":"LOS Path Loss","d":5.28,"p":84.7},{"s":"LOS Path Loss","d":6.34,"p":83.9},{"s":"LOS Path Loss","d":7.09,"p":86.3},{"s":"LOS Path Loss","d":7.03,"p":85.4},{"s":"LOS Path Loss","d":7.91,"p":83.7},{"s":"LOS Path Loss","d":12.85,"p":89.8},{"s":"LOS Path Loss","d":12.6,"p":88.1},{"s":"LOS Path Loss","d":20.4,"p":88.3},{"s":"LOS Path Loss","d":21.3,"p":89.5},
{"s":"NLOS Path Loss Best","d":3.85,"p":93.2},{"s":"NLOS Path Loss Best","d":4.08,"p":90.7},{"s":"NLOS Path Loss Best","d":5.32,"p":95.6},{"s":"NLOS Path Loss Best","d":5.47,"p":99.7},{"s":"NLOS Path Loss Best","d":5.61,"p":106.8},{"s":"NLOS Path Loss Best","d":6.43,"p":94.6},{"s":"NLOS Path Loss Best","d":6.69,"p":97.1},{"s":"NLOS Path Loss Best","d":6.93,"p":91.7},{"s":"NLOS Path Loss Best","d":7.13,"p":93.7},{"s":"NLOS Path Loss Best","d":7.67,"p":119.5},{"s":"NLOS Path Loss Best","d":7.91,"p":93.7},{"s":"NLOS Path Loss Best","d":8.38,"p":95.6},{"s":"NLOS Path Loss Best","d":8.26,"p":92.7},{"s":"NLOS Path Loss Best","d":8.14,"p":110.7},{"s":"NLOS Path Loss Best","d":8.89,"p":101.5},{"s":"NLOS Path Loss Best","d":9.03,"p":123.4},{"s":"NLOS Path Loss Best","d":8.76,"p":112.2},{"s":"NLOS Path Loss Best","d":10.15,"p":96.6},{"s":"NLOS Path Loss Best","d":10.77,"p":121.4},{"s":"NLOS Path Loss Best","d":11.25,"p":112.7},{"s":"NLOS Path Loss Best","d":11.93,"p":106.8},{"s":"NLOS Path Loss Best","d":11.93,"p":125.8},{"s":"NLOS Path Loss Best","d":12.66,"p":94.8},{"s":"NLOS Path Loss Best","d":13.62,"p":118},{"s":"NLOS Path Loss Best","d":14.23,"p":112.2},{"s":"NLOS Path Loss Best","d":15.55,"p":104.4},{"s":"NLOS Path Loss Best","d":14.87,"p":97.5},{"s":"NLOS Path Loss Best","d":19.97,"p":105.4},{"s":"NLOS Path Loss Best","d":20.26,"p":94.6},{"s":"NLOS Path Loss Best","d":21.17,"p":92.2},{"s":"NLOS Path Loss Best","d":25.64,"p":125.3},{"s":"NLOS Path Loss Best","d":28.83,"p":124.9},{"s":"NLOS Path Loss Best","d":28.42,"p":110.2},{"s":"NLOS Path Loss Best","d":30.59,"p":110.2},{"s":"NLOS Path Loss Best","d":15.55,"p":145.3},{"s":"NLOS Path Loss Best","d":29.97,"p":131.2},{"s":"NLOS Path Loss Best","d":39.05,"p":143.9},{"s":"NLOS Path Loss Best","d":41.65,"p":118},{"s":"NLOS Path Loss Best","d":42.2,"p":116.1}
],
"lines": [
{"s":"fL","d":1,"p":69.7},{"s":"fL","d":70,"p":101.1},
{"s":"fN","d":1,"p":69.7},{"s":"fN","d":70,"p":167.5},
{"s":"fB","d":1,"p":69.7},{"s":"fB","d":70,"p":132.4},
{"s":"n2","d":1,"p":69.7},{"s":"n2","d":70,"p":106.6},
{"s":"n3","d":1,"p":69.7},{"s":"n3","d":70,"p":125.05},
{"s":"n4","d":1,"p":69.7},{"s":"n4","d":70,"p":143.5},
{"s":"n5","d":1,"p":69.7},{"s":"n5","d":70,"p":162.0}
],
"labels": [
{"t":"n= 2","d":70,"p":106.6},{"t":"n= 3","d":70,"p":125.05},{"t":"n= 4","d":70,"p":143.5},{"t":"n= 5","d":70,"p":162.0}
]
},
"encoding": {
  "x": {"field": "d", "type": "quantitative", "scale": {"type": "log", "domain": [1, 100], "nice": false},
        "axis": {"title": "T-R Separation (m)", "values": [1,2,3,4,5,6,7,8,9,10,20,30,40,50,60,70,80,90,100], "labelExpr": "datum.value == 1 || datum.value == 10 || datum.value == 100 ? format(datum.value, 'd') : ''"}},
  "y": {"field": "p", "type": "quantitative", "scale": {"domain": [70, 190], "nice": false, "zero": false},
        "axis": {"title": "Path Loss (dB)", "values": [80, 100, 120, 140, 160, 180]}}
},
"layer": [
  {"data": {"name": "nlos"},
   "mark": {"type": "point", "filled": false, "shape": "M-0.75,-0.75L0.75,0.75M-0.75,0.75L0.75,-0.75", "size": 110, "strokeWidth": 2, "color": "#ff0000", "opacity": 1, "clip": true}},
  {"data": {"name": "lines"},
   "transform": [{"filter": "datum.s == 'fL' || datum.s == 'fN' || datum.s == 'fB'"}],
   "mark": {"type": "line", "strokeDash": [7, 4], "strokeWidth": 2, "clip": true},
   "encoding": {"stroke": {"field": "s", "type": "nominal", "scale": {"domain": ["fL", "fN", "fB"], "range": ["#22dd22", "#ff0000", "#0000ff"]}, "legend": null}}},
  {"data": {"name": "lines"},
   "transform": [{"filter": "datum.s == 'n2' || datum.s == 'n3' || datum.s == 'n4' || datum.s == 'n5'"}],
   "mark": {"type": "line", "strokeDash": [6, 4], "strokeWidth": 1.5, "color": "#000000", "clip": true},
   "encoding": {"detail": {"field": "s", "type": "nominal"}}},
  {"data": {"name": "marks"},
   "mark": {"type": "point", "filled": false, "size": 90, "strokeWidth": 1.5, "opacity": 1, "clip": true},
   "encoding": {
     "color": {"field": "s", "type": "nominal", "title": null,
       "scale": {"domain": ["LOS Path Loss", "NLOS Path Loss", "NLOS Path Loss Best", "nLOS = 1.7, σLOS = 2.1 dB", "nNLOS = 5.3, σNLOS = 15.6 dB", "nNLOS Best = 3.4, σNLOS Best = 11.8 dB"],
                 "range": ["#22dd22", "#ff0000", "#0000ff", "#22dd22", "#ff0000", "#0000ff"]}},
     "shape": {"field": "s", "type": "nominal", "title": null,
       "scale": {"domain": ["LOS Path Loss", "NLOS Path Loss", "NLOS Path Loss Best", "nLOS = 1.7, σLOS = 2.1 dB", "nNLOS = 5.3, σNLOS = 15.6 dB", "nNLOS Best = 3.4, σNLOS Best = 11.8 dB"],
                 "range": ["circle", "M-0.75,-0.75L0.75,0.75M-0.75,0.75L0.75,-0.75", "triangle-up", "M-3.9,0L-2.9,0M-2.2,0L-1.2,0M-0.5,0L0.5,0M1.2,0L2.2,0M2.9,0L3.9,0", "M-3.9,0L-2.9,0M-2.2,0L-1.2,0M-0.5,0L0.5,0M1.2,0L2.2,0M2.9,0L3.9,0", "M-3.9,0L-2.9,0M-2.2,0L-1.2,0M-0.5,0L0.5,0M1.2,0L2.2,0M2.9,0L3.9,0"]}}
   }},
  {"data": {"name": "labels"},
   "mark": {"type": "text", "align": "left", "baseline": "middle", "dx": 4, "font": "Liberation Sans", "fontSize": 14, "color": "#000000"},
   "encoding": {"text": {"field": "t", "type": "nominal"}}}
]
}
